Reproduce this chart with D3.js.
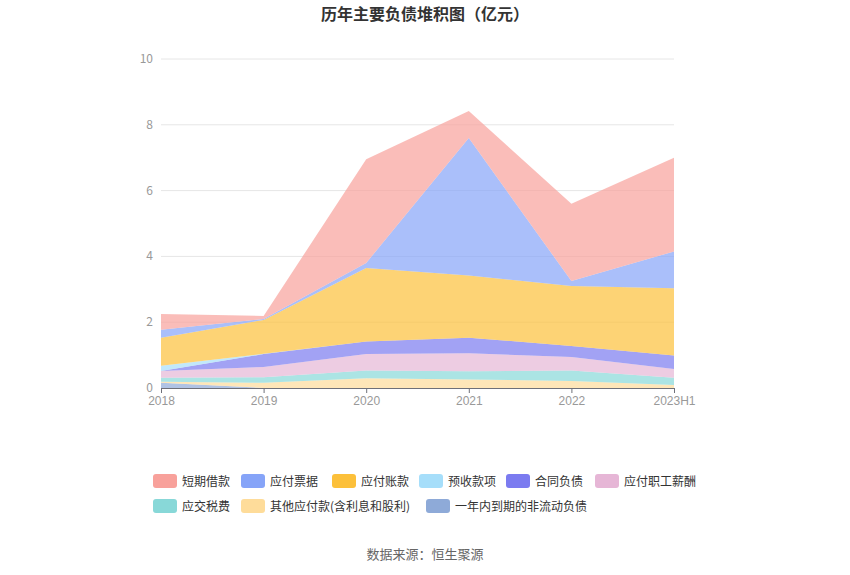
<!DOCTYPE html><html><head><meta charset="utf-8"><script src="https://cdn.jsdelivr.net/npm/d3@7"></script>
<style>body{margin:0;background:#fff;font-family:"Noto Sans CJK SC","Noto Sans",sans-serif}</style></head><body><svg id="c" width="850" height="575"></svg>
<script>
const years=["2018","2019","2020","2021","2022","2023H1"];
const yTicks=[0,2,4,6,8,10];
const names=["一年内到期的非流动负债","其他应付款(含利息和股利)","应交税费","应付职工薪酬","合同负债","预收款项","应付账款","应付票据","短期借款"];
const colors=["#8eaad8","#fedc9a","#88d8d8","#e6b6d6","#7b7bf0","#a6defa","#fcc03a","#86a4f8","#f8a19b"];
const yiNian=[0.16,0,0,0,0,0];
const qiTa=[0.03,0.16,0.30,0.26,0.21,0.09];
const shuiFei=[0.12,0.17,0.23,0.25,0.32,0.22];
const xinChou=[0.21,0.31,0.50,0.55,0.41,0.27];
const heTong=[0,0.39,0.38,0.47,0.34,0.41];
const yuShou=[0.16,0.01,0,0,0,0];
const zhangKuan=[0.85,1.03,2.24,1.89,1.82,2.04];
const piaoJu=[0.24,0.03,0.15,4.18,0.15,1.12];
const duanQi=[0.48,0.09,3.15,0.82,2.35,2.85];
const series=[yiNian,qiTa,shuiFei,xinChou,heTong,yuShou,zhangKuan,piaoJu,duanQi];
const legendOrder=[8,7,6,5,4,3,2,1,0];
const svg=d3.select("#c");
const x=d3.scalePoint().domain(years).range([161,674]);
const y=d3.scaleLinear().domain([0,10]).range([388,59]);
svg.append("text").attr("x",425).attr("y",20).attr("text-anchor","middle").attr("font-size",16).attr("font-weight","bold").attr("fill","#333").text("历年主要负债堆积图（亿元）");
svg.append("g").selectAll("line").data(yTicks.slice(1)).join("line").attr("x1",161).attr("x2",674).attr("y1",d=>y(d)).attr("y2",d=>y(d)).attr("stroke","#e6e6e6");
svg.append("g").selectAll("text").data(yTicks).join("text").attr("x",153).attr("y",d=>y(d)+4).attr("text-anchor","end").attr("font-size",12).attr("fill","#999").text(d=>d);
const data=years.map((yr,i)=>{const o={yr};series.forEach((s,k)=>o[k]=s[i]);return o;});
const stack=d3.stack().keys(series.map((s,k)=>k))(data);
const area=d3.area().x(d=>x(d.data.yr)).y0(d=>y(d[0])).y1(d=>y(d[1]));
svg.append("g").selectAll("path").data(stack).join("path").attr("d",area).attr("fill",(d,i)=>colors[i]).attr("fill-opacity",0.7);
const ax=svg.append("g").attr("transform","translate(0,388)").call(d3.axisBottom(x).tickSize(5).tickSizeOuter(0));
ax.select(".domain").attr("stroke","#6e7079");ax.selectAll("line").attr("stroke","#6e7079");
ax.selectAll("text").attr("fill","#999").attr("font-size",12).attr("font-family","inherit");
const lx=[153,241,332,419,506,595,153,241,426],ly=[481,481,481,481,481,481,506,506,506];
legendOrder.forEach((k,j)=>{const g=svg.append("g").attr("transform",`translate(${lx[j]},${ly[j]})`);
g.append("rect").attr("x",0).attr("y",-7).attr("width",24).attr("height",14).attr("rx",3).attr("fill",colors[k]);
g.append("text").attr("x",29).attr("y",4.5).attr("font-size",12).attr("fill","#333").text(names[k]);});
svg.append("text").attr("x",425).attr("y",559).attr("text-anchor","middle").attr("font-size",13).attr("fill","#666").text("数据来源：恒生聚源");
</script></body></html>
